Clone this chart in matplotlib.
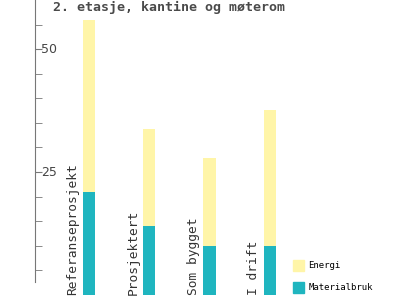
import matplotlib
matplotlib.use('Agg')
import matplotlib.pyplot as plt
import matplotlib.transforms as mtransforms
from matplotlib.patches import Patch

# data
phases = ["Referanseprosjekt", "Prosjektert", "Som bygget", "I drift"]
materialbruk = [21, 14, 10, 10]
energi = [35, 19.7, 17.8, 27.6]
yticks_major = [25, 50]

yellow = "#fff5a8"
teal = "#1fb5bf"
grey = "#777777"

fig = plt.figure(figsize=(4, 3), dpi=100)
ax = fig.add_axes([0.0875, 0.0167, 0.9125, 0.9833])

x = range(len(phases))
ax.bar(x, materialbruk, width=0.2, color=teal, label="Materialbruk")
ax.bar(x, energi, width=0.2, bottom=materialbruk, color=yellow, label="Energi")

for i, name in enumerate(phases):
    ax.text(i - 0.27, 0, name, rotation=90, ha="center", va="bottom",
            family="DejaVu Sans Mono", fontsize=9.3, color="#333333")

ax.set_xlim(-0.895, 5.16)
ax.set_ylim(0, 60)
ax.set_xticks([])
ax.set_yticks(yticks_major)
ax.set_yticks(range(5, 60, 5), minor=True)
ax.tick_params(axis="y", which="both", direction="in", length=5,
               color=grey, labelleft=False)
for s in ["top", "right", "bottom"]:
    ax.spines[s].set_visible(False)
ax.spines["left"].set_color(grey)
ax.spines["left"].set_bounds(2.6, 60)

# tick labels sit inside, right of the spine
trans = mtransforms.blended_transform_factory(ax.transAxes, ax.transData)
for v in yticks_major:
    ax.text(0.017, v, str(v), transform=trans, ha="left", va="center",
            fontsize=9, color="#444444")

fig.text(0.133, 0.975, "2. etasje, kantine og møterom", family="DejaVu Sans Mono",
         fontsize=9.5, fontweight="bold", color="#4a4a4a", va="center", ha="left")

handles = [Patch(color=yellow, label="Energi"), Patch(color=teal, label="Materialbruk")]
ax.legend(handles=handles, loc="lower left", bbox_to_anchor=(0.685, -0.02),
          frameon=False, handlelength=1.2, handleheight=1.5, handletextpad=0.5,
          labelspacing=1.2, prop={"family": "DejaVu Sans Mono", "size": 6.5})

fig.savefig("out.png", dpi=100)
